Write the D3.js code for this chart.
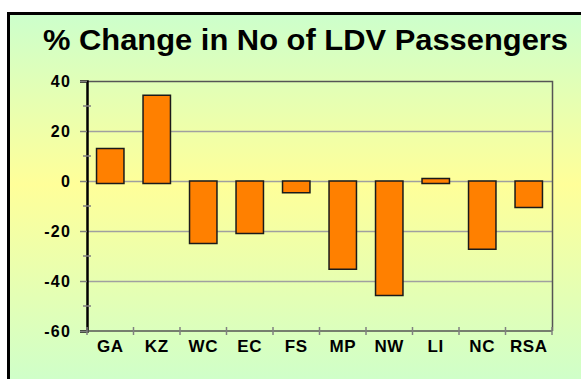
<!DOCTYPE html>
<html>
<head>
<meta charset="utf-8">
<script src="https://cdn.jsdelivr.net/npm/d3@7"></script>
<style>
  html, body { margin: 0; padding: 0; background: #ffffff; }
  svg { display: block; }
</style>
</head>
<body>
<svg id="chart" width="581" height="379"></svg>
<script>
// Regions and their percentage change in LDV passengers
const regions = ["GA", "KZ", "WC", "EC", "FS", "MP", "NW", "LI", "NC", "RSA"];
const pctChange = [13, 34.3, -25, -21, -4.7, -35.3, -45.8, 1, -27.3, -10.6];
const yTicks = [40, 20, 0, -20, -40, -60];
const yMinorTicks = [30, 10, -10, -30, -50];
const title = "% Change in No of LDV Passengers";
// positive bars rest slightly below the zero line
const positiveBase = -1;

const svg = d3.select("#chart");
const W = 581, H = 379;
const FONT = "Arial, 'Liberation Sans', sans-serif";

// background panel with vertical green-yellow-green gradient
const defs = svg.append("defs");
const grad = defs.append("linearGradient")
  .attr("id", "bg").attr("x1", 0).attr("y1", 0).attr("x2", 0).attr("y2", 1);
grad.append("stop").attr("offset", "0%").attr("stop-color", "#ccffcc");
grad.append("stop").attr("offset", "45%").attr("stop-color", "#ffff99");
grad.append("stop").attr("offset", "100%").attr("stop-color", "#ccffcc");

svg.append("rect")
  .attr("x", 8.5).attr("y", 13.5).attr("width", W).attr("height", H)
  .attr("fill", "url(#bg)")
  .attr("stroke", "#000").attr("stroke-width", 3);

// plot area
const plot = { left: 87, right: 552, top: 81, bottom: 331 };

const x = d3.scaleBand()
  .domain(regions)
  .range([plot.left, plot.right])
  .paddingInner(0.41)
  .paddingOuter(0.205);

const y = d3.scaleLinear()
  .domain([-60, 40])
  .range([plot.bottom, plot.top]);

// gridlines
svg.append("g")
  .selectAll("line")
  .data(yTicks.filter(d => d > -60 && d < 40))
  .join("line")
  .attr("x1", plot.left).attr("x2", plot.right)
  .attr("y1", d => y(d) + 0.5).attr("y2", d => y(d) + 0.5)
  .attr("stroke", "#a0a0a0").attr("stroke-width", 1.5);

// plot border top and right
svg.append("path")
  .attr("d", `M${plot.left},${plot.top + 0.5}H${plot.right + 0.5}V${plot.bottom}`)
  .attr("fill", "none").attr("stroke", "#555").attr("stroke-width", 1.5);

// bars
svg.append("g")
  .selectAll("rect")
  .data(regions.map((r, i) => ({ r, v: pctChange[i] })))
  .join("rect")
  .attr("x", d => x(d.r))
  .attr("width", x.bandwidth())
  .attr("y", d => d.v >= 0 ? y(d.v) : y(0))
  .attr("height", d => d.v >= 0 ? y(positiveBase) - y(d.v) : y(d.v) - y(0))
  .attr("fill", "#ff8000")
  .attr("stroke", "#1a1a1a").attr("stroke-width", 1.5);

// y axis
const yAxis = d3.axisLeft(y).tickValues(yTicks).tickSize(7).tickPadding(9)
  .tickFormat(d => String(d));
const gy = svg.append("g").attr("transform", `translate(${plot.left},0)`).call(yAxis);
gy.attr("font-family", FONT).attr("font-size", 16).attr("font-weight", "bold");
gy.select(".domain").attr("stroke", "#000").attr("stroke-width", 2.5);
gy.selectAll(".tick line").attr("stroke", "#808080").attr("stroke-width", 1.5);
gy.selectAll(".tick text")
  .attr("font-family", FONT)
  .attr("font-weight", "bold").attr("font-size", 16)
  .attr("letter-spacing", 1.2)
  .attr("fill", "#000");

// minor ticks on y axis
svg.append("g")
  .selectAll("line")
  .data(yMinorTicks)
  .join("line")
  .attr("x1", plot.left - 4).attr("x2", plot.left + 4)
  .attr("y1", d => y(d)).attr("y2", d => y(d))
  .attr("stroke", "#808080").attr("stroke-width", 1.5);

// x axis with ticks on category boundaries
const gx = svg.append("g").attr("transform", `translate(0,${plot.bottom})`);
gx.append("line")
  .attr("x1", plot.left).attr("x2", plot.right)
  .attr("stroke", "#555").attr("stroke-width", 1.5);
gx.selectAll(".bt")
  .data(d3.range(regions.length + 1))
  .join("line")
  .attr("class", "bt")
  .attr("x1", i => plot.left + i * (plot.right - plot.left) / regions.length)
  .attr("x2", i => plot.left + i * (plot.right - plot.left) / regions.length)
  .attr("y1", -4).attr("y2", 4)
  .attr("stroke", "#808080").attr("stroke-width", 1.5);
gx.selectAll("text")
  .data(regions)
  .join("text")
  .attr("x", d => x(d) + x.bandwidth() / 2)
  .attr("y", 21)
  .attr("text-anchor", "middle")
  .attr("font-family", FONT)
  .attr("font-weight", "bold").attr("font-size", 17)
  .attr("letter-spacing", 0.6)
  .attr("fill", "#000")
  .text(d => d);

// title
svg.append("text")
  .attr("x", 43).attr("y", 50)
  .attr("textLength", 525).attr("lengthAdjust", "spacingAndGlyphs")
  .attr("font-family", FONT)
  .attr("font-weight", "bold").attr("font-size", 29)
  .attr("fill", "#000")
  .text(title);
</script>
</body>
</html>
